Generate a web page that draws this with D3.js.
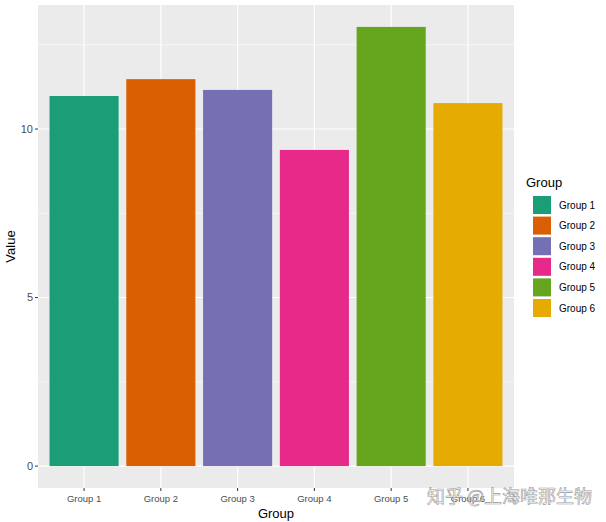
<!DOCTYPE html>
<html><head><meta charset="utf-8"><script src="https://d3js.org/d3.v7.min.js"></script>
<style>body{margin:0;background:#fff}text{font-family:Arial,"Liberation Sans",sans-serif}</style></head>
<body><svg id="c" width="606" height="522"></svg>
<script>
const categories=["Group 1","Group 2","Group 3","Group 4","Group 5","Group 6"];
const values=[10.98,11.48,11.16,9.38,13.03,10.77];
const colors=["#1B9E77","#D95F02","#7570B3","#E7298A","#66A61E","#E6AB02"];
const yTicks=[0,5,10];
const yMinor=[2.5,7.5,12.5];
const svg=d3.select("#c");
const L=38,R=514,T=5,B=488;
const x=d3.scaleLinear().domain([0.4,6.6]).range([L,R]);
const y=d3.scaleLinear().domain([-0.65,13.68]).range([B,T]);
svg.append("rect").attr("x",L).attr("y",T).attr("width",R-L).attr("height",B-T).attr("fill","#EBEBEB");
const g=svg.append("g");
yMinor.forEach(v=>g.append("line").attr("x1",L).attr("x2",R).attr("y1",y(v)).attr("y2",y(v)).attr("stroke","#fff").attr("stroke-width",0.55));
yTicks.forEach(v=>g.append("line").attr("x1",L).attr("x2",R).attr("y1",y(v)).attr("y2",y(v)).attr("stroke","#fff").attr("stroke-width",1.1));
categories.forEach((c,i)=>g.append("line").attr("y1",T).attr("y2",B).attr("x1",x(i+1)).attr("x2",x(i+1)).attr("stroke","#fff").attr("stroke-width",1.1));
const bw=(x(1.45)-x(0.55));
svg.selectAll(".bar").data(values).enter().append("rect")
 .attr("x",(d,i)=>x(i+1)-bw/2).attr("width",bw)
 .attr("y",d=>y(d)).attr("height",d=>y(0)-y(d)).attr("fill",(d,i)=>colors[i]);
yTicks.forEach(v=>{
 svg.append("line").attr("x1",L-3).attr("x2",L).attr("y1",y(v)).attr("y2",y(v)).attr("stroke","#333");
 svg.append("text").attr("x",L-5).attr("y",y(v)).attr("dy","0.35em").attr("text-anchor","end").attr("font-size",11).attr("fill","#4D4D4D").text(v);
});
categories.forEach((c,i)=>{
 svg.append("line").attr("y1",B).attr("y2",B+3).attr("x1",x(i+1)).attr("x2",x(i+1)).attr("stroke","#333");
 svg.append("text").attr("x",x(i+1)).attr("y",B+14).attr("text-anchor","middle").attr("font-size",9.5).attr("fill","#4D4D4D").text(c);
});
svg.append("text").attr("x",(L+R)/2).attr("y",518).attr("text-anchor","middle").attr("font-size",13).text("Group");
svg.append("text").attr("transform",`translate(15,${(T+B)/2}) rotate(-90)`).attr("text-anchor","middle").attr("font-size",13).text("Value");
svg.append("text").attr("x",526).attr("y",187).attr("font-size",13).text("Group");
categories.forEach((c,i)=>{
 const yy=196+i*20.6;
 svg.append("rect").attr("x",533).attr("y",yy).attr("width",18).attr("height",18).attr("fill",colors[i]);
 svg.append("text").attr("x",559).attr("y",yy+9).attr("dy","0.35em").attr("font-size",10).text(c);
});
svg.append("text").attr("x",592).attr("y",503).attr("text-anchor","end").attr("font-size",18)
 .attr("fill","#fff").attr("stroke","#888").attr("stroke-width",0.6).attr("opacity",0.85)
 .style("font-family","'Noto Sans CJK SC',sans-serif").text("知乎 @上海唯那生物");
</script></body></html>
